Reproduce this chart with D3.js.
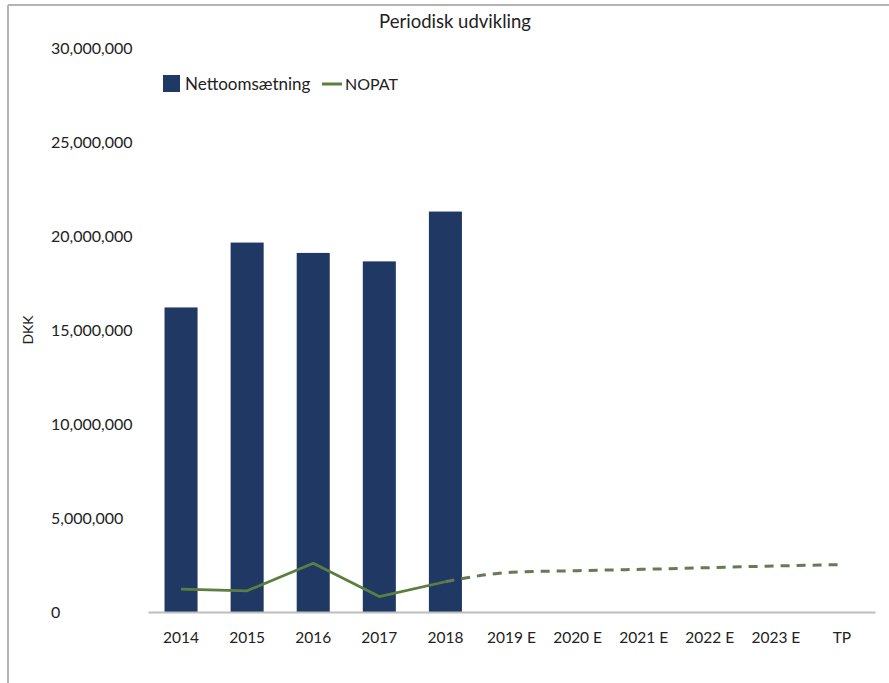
<!DOCTYPE html>
<html>
<head>
<meta charset="utf-8">
<script src="https://cdn.jsdelivr.net/npm/d3@7"></script>
<style>
  html, body { margin: 0; padding: 0; background: #fff; }
  svg { display: block; }
  text { font-family: Lato, "Open Sans", sans-serif; fill: #222; }
</style>
</head>
<body>
<svg id="chart" width="889" height="683"></svg>
<script>
// Periods on the category axis
const categories = ["2014", "2015", "2016", "2017", "2018", "2019 E", "2020 E", "2021 E", "2022 E", "2023 E", "TP"];
// Net revenue (historical years only)
const revenueYears = ["2014", "2015", "2016", "2017", "2018"];
const revenue = [16200000, 19650000, 19100000, 18650000, 21300000];
// NOPAT, realised
const nopatActualYears = ["2014", "2015", "2016", "2017", "2018"];
const nopatActual = [1220000, 1130000, 2590000, 820000, 1610000];
// NOPAT, budget / terminal period (continues from 2018)
const nopatForecastYears = ["2018", "2019 E", "2020 E", "2021 E", "2022 E", "2023 E", "TP"];
const nopatForecast = [1610000, 2110000, 2200000, 2270000, 2360000, 2450000, 2520000];
// Value axis ticks
const yTicks = [0, 5000000, 10000000, 15000000, 20000000, 25000000, 30000000];

const svg = d3.select("#chart");
const barColor = "#1f3864";
const lineColor = "#5a7f3f";
const dashColor = "#667a55";

// frame edges
svg.append("line").attr("x1", 8).attr("x2", 889).attr("y1", 5).attr("y2", 5)
  .attr("stroke", "#b4b4b4").attr("stroke-width", 2);
svg.append("line").attr("x1", 8).attr("x2", 8).attr("y1", 5).attr("y2", 683)
  .attr("stroke", "#b4b4b4").attr("stroke-width", 2);

const x = d3.scaleBand().domain(categories).range([148, 875])
  .paddingInner(0.5).paddingOuter(0.25);
const y = d3.scaleLinear().domain([0, 30000000]).range([612, 48]);
const fmt = d3.format(",");

// title
svg.append("text").attr("x", 455).attr("y", 28).attr("text-anchor", "middle")
  .style("font-size", "18.5px").text("Periodisk udvikling");

// y tick labels (left aligned)
svg.append("g").selectAll("text").data(yTicks).join("text")
  .attr("x", 51).attr("y", d => y(d)).attr("dy", "0.35em")
  .style("font-size", "16px").text(d => fmt(d));

// y axis title
svg.append("text").attr("transform", "translate(33,330) rotate(-90)")
  .attr("text-anchor", "middle").style("font-size", "14px").text("DKK");

// bars
svg.append("g").selectAll("rect").data(revenue).join("rect")
  .attr("x", (d, i) => x(revenueYears[i]))
  .attr("width", x.bandwidth())
  .attr("y", d => y(d))
  .attr("height", d => y(0) - y(d))
  .attr("fill", barColor);

// category axis
const xAxis = d3.axisBottom(x).tickSize(0).tickPadding(20);
const gx = svg.append("g").attr("transform", `translate(0,${y(0)})`).call(xAxis);
gx.select(".domain").attr("stroke", "#bdbdbd").attr("stroke-width", 2);
gx.selectAll("text").style("font-family", "Lato, 'Open Sans', sans-serif")
  .style("font-size", "15.5px").attr("fill", "#222");

// NOPAT lines
const cx = c => x(c) + x.bandwidth() / 2;
const solid = d3.line().x((d, i) => cx(nopatActualYears[i])).y(d => y(d));
svg.append("path").datum(nopatActual).attr("d", solid)
  .attr("fill", "none").attr("stroke", lineColor).attr("stroke-width", 2.75)
  .attr("stroke-linejoin", "round");
const dashed = d3.line().curve(d3.curveMonotoneX)
  .x((d, i) => cx(nopatForecastYears[i])).y(d => y(d));
svg.append("path").datum(nopatForecast).attr("d", dashed)
  .attr("fill", "none").attr("stroke", dashColor).attr("stroke-width", 3)
  .attr("stroke-dasharray", "9,7");

// legend
const lg = svg.append("g");
lg.append("rect").attr("x", 163).attr("y", 75).attr("width", 17).attr("height", 17).attr("fill", barColor);
lg.append("text").attr("x", 185).attr("y", 84).attr("dy", "0.35em").style("font-size", "17px").text("Nettoomsætning");
lg.append("line").attr("x1", 322).attr("x2", 342).attr("y1", 84).attr("y2", 84)
  .attr("stroke", lineColor).attr("stroke-width", 3);
lg.append("text").attr("x", 345).attr("y", 84).attr("dy", "0.35em").style("font-size", "16px").text("NOPAT");
</script>
</body>
</html>
